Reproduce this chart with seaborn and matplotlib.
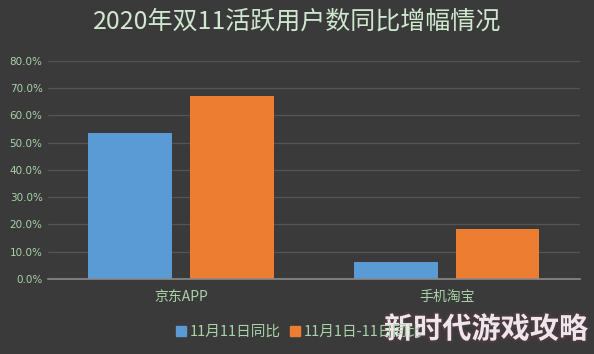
import matplotlib
matplotlib.use("Agg")
import matplotlib.pyplot as plt
import matplotlib.patheffects as pe
import pandas as pd
import seaborn as sns

# Data
categories = ["京东APP", "手机淘宝"]
series_names = ["11月11日同比", "11月1日-11日同比"]
yoy_nov11 = [0.536, 0.062]
yoy_nov1_11 = [0.672, 0.183]
y_ticks = [0.0, 0.1, 0.2, 0.3, 0.4, 0.5, 0.6, 0.7, 0.8]

df = pd.DataFrame({
    "平台": categories * 2,
    "系列": [series_names[0]] * 2 + [series_names[1]] * 2,
    "增幅": yoy_nov11 + yoy_nov1_11,
})

sns.set_style("dark")
plt.rcParams["font.family"] = ["Noto Sans CJK SC", "DejaVu Sans"]

bg = "#3a3a3a"
text_green = "#a9d3a9"
colors = ["#5b9bd5", "#ed7d31"]

fig = plt.figure(figsize=(5.94, 3.54), dpi=100, facecolor=bg)
ax = fig.add_axes([0.081, 0.212, 0.895, 0.616])
ax.set_facecolor(bg)

sns.barplot(data=df, x="平台", y="增幅", hue="系列", order=categories,
            hue_order=series_names, palette=colors, saturation=1,
            width=0.766, gap=0.18, edgecolor="none", linewidth=0,
            ax=ax, legend=False)

ax.set_xlim(-0.5, 1.5)
ax.set_ylim(0, 0.8)
ax.set_yticks(y_ticks)
ax.set_yticklabels([f"{v * 100:.1f}%" for v in y_ticks], fontsize=7.5,
                   color=text_green, family=["DejaVu Sans"])
ax.tick_params(axis="x", colors=text_green, labelsize=10, length=0, pad=8)
ax.tick_params(axis="y", length=0, pad=4)
ax.grid(axis="y", color="#555555", linewidth=0.9)
ax.set_axisbelow(True)
ax.set_xlabel("")
ax.set_ylabel("")
for side in ["top", "right", "left"]:
    ax.spines[side].set_visible(False)
ax.spines["bottom"].set_color("#8a8a8a")
ax.spines["bottom"].set_linewidth(1.2)

fig.text(0.5, 0.938, "2020年双11活跃用户数同比增幅情况", ha="center", va="center",
         fontsize=18, fontweight="medium", color="#cfe8cf")

handles = [plt.Line2D([], [], marker="s", linestyle="", markersize=7, color=c)
           for c in colors]
fig.legend(handles, series_names, loc="center left", bbox_to_anchor=(0.27, 0.062),
           ncol=2, frameon=False, fontsize=10.5, labelcolor=text_green,
           handletextpad=0.1, columnspacing=0.5, handlelength=1.0)

fig.text(0.818, 0.07, "新时代游戏攻略", ha="center", va="center", fontsize=21,
         fontweight="bold", color="#eee6ea",
         path_effects=[pe.withStroke(linewidth=3, foreground="#4a3a40")])

fig.savefig("out.png", dpi=100, facecolor=bg)
